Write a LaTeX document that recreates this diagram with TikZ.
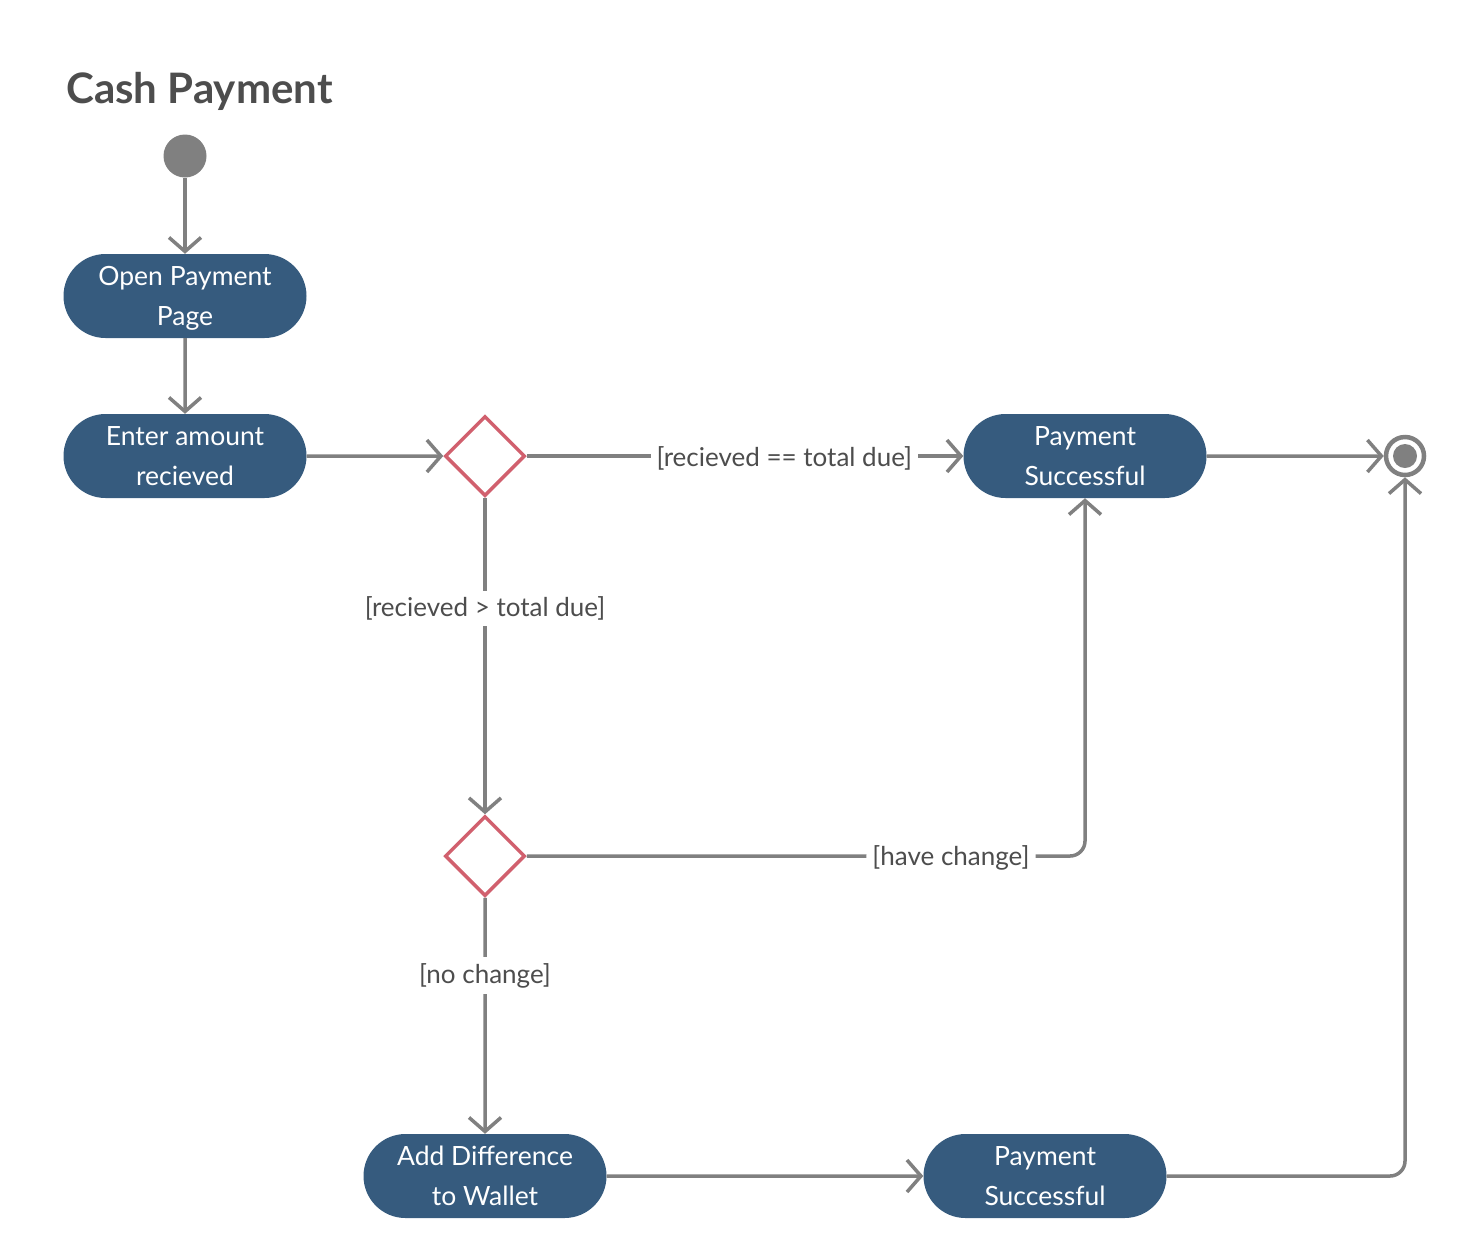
\documentclass[tikz,border=0pt]{standalone}
\usepackage{fontspec}
\setmainfont{Lato}
\usetikzlibrary{shapes.geometric,shapes.misc,arrows.meta}
\definecolor{nodeblue}{HTML}{365B7E}
\definecolor{linegray}{HTML}{808080}
\definecolor{textgray}{HTML}{4D4D4D}
\definecolor{diared}{HTML}{D1606E}
\tikzset{
  activity/.style={rounded rectangle, fill=nodeblue, text=white, minimum width=243pt, minimum height=84pt, inner sep=0pt, text depth=0pt, align=center, font=\fontsize{26.5}{40}\selectfont},
  decision/.style={diamond, draw=diared, line width=3.5pt, fill=white, minimum width=80pt, minimum height=80pt, inner sep=0pt},
  flow/.style={draw=linegray, line width=3.5pt, -{Straight Barb[length=14pt,width=32pt,line width=3.5pt]}},
  guard/.style={fill=white, text=textgray, font=\fontsize{26}{30}\selectfont, inner sep=6pt},
}
\begin{document}
\begin{tikzpicture}[x=1pt,y=-1pt]
\useasboundingbox (0,0) rectangle (1461,1254);
\node[anchor=base west, text=textgray, font=\fontsize{42}{50}\selectfont\bfseries, inner sep=0pt] (title) at (66,103) {Cash Payment};
\node[circle, fill=linegray, minimum size=43pt, inner sep=0pt] (start) at (185,156) {};
\node[activity] (open) at (185,296) {Open Payment\\Page};
\node[activity] (enter) at (185,456) {Enter amount\\recieved};
\node[decision] (d1) at (485,456) {};
\node[activity] (ps1) at (1085,456) {Payment\\Successful};
\node[circle, draw=linegray, line width=4.5pt, minimum size=38pt, inner sep=0pt] (end) at (1405,456) {};
\node[circle, fill=linegray, minimum size=24pt, inner sep=0pt] (endin) at (1405,456) {};
\node[decision] (d2) at (485,856) {};
\node[activity] (add) at (485,1176) {Add Difference\\to Wallet};
\node[activity] (ps2) at (1045,1176) {Payment\\Successful};

\draw[flow] (start) -- (open);
\draw[flow] (open) -- (enter);
\draw[flow] (enter) -- (d1.west);
\draw[flow] (d1.east) -- node[guard, pos=0.59, yshift=-2pt] {[recieved == total due]} (ps1);
\draw[flow] (d1.south) -- node[guard, pos=0.35] {[recieved > total due]} (d2.north);
\draw[flow, rounded corners=15pt] (d2.east) -| node[guard, pos=0.38, yshift=-2pt] {[have change]} (ps1.south);
\draw[flow] (d2.south) -- node[guard, pos=0.33] {[no change]} (add);
\draw[flow] (add) -- (ps2);
\draw[flow] (ps1) -- (end.west);
\draw[flow, rounded corners=15pt] (ps2.east) -| (end.south);
\end{tikzpicture}
\end{document}
